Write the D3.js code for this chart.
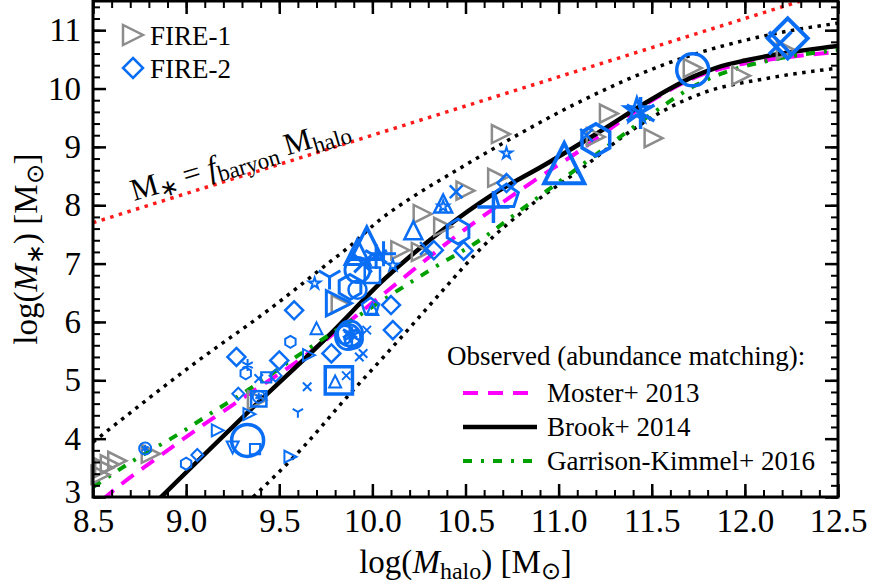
<!DOCTYPE html>
<html>
<head>
<meta charset="utf-8">
<script src="https://cdn.jsdelivr.net/npm/d3@7"></script>
<style>
  body { margin: 0; background: #fff; }
  svg { display: block; font-family: "Liberation Serif", "Times New Roman", serif; }
</style>
</head>
<body>
<div class="canvas"></div>
<script>
// ---- data (log halo mass, log stellar mass) ----
const xTicks = [8.5, 9.0, 9.5, 10.0, 10.5, 11.0, 11.5, 12.0, 12.5];
const yTicks = [3, 4, 5, 6, 7, 8, 9, 10, 11];

const baryonLine = [[8.5, 7.7], [12.5, 11.7]];
const moster = [[8.55, 2.95], [8.59, 3.06], [8.84, 3.66], [9.09, 4.23], [9.34, 4.77], [9.63, 5.4],
  [10.04, 6.43], [10.49, 7.57], [10.85, 8.38], [11.12, 8.95], [11.33, 9.43], [11.6, 9.98],
  [11.78, 10.25], [11.92, 10.38], [12.1, 10.48], [12.5, 10.63]];
const brook = [[8.85, 2.95], [9.38, 4.6], [9.77, 5.78], [10.06, 6.72], [10.4, 7.63], [10.63, 8.15],
  [10.94, 8.72], [11.19, 9.2], [11.47, 9.76], [11.6, 10.0], [11.72, 10.2], [11.85, 10.36],
  [12.0, 10.48], [12.2, 10.6], [12.5, 10.73]];
const garrison = [[8.5, 3.17], [8.72, 3.63], [8.95, 4.06], [9.16, 4.49], [9.33, 4.83], [9.59, 5.4],
  [10.02, 6.3], [10.31, 6.89], [10.6, 7.45], [10.76, 7.83], [11.04, 8.49], [11.3, 9.1],
  [11.56, 9.7], [11.72, 10.03], [11.87, 10.25], [12.13, 10.48], [12.5, 10.66]];
const scatterHigh = [[8.5, 3.94], [9.02, 5.23], [9.49, 6.32], [9.74, 6.95], [9.88, 7.3], [10.04, 7.75],
  [10.22, 8.15], [10.4, 8.5], [10.76, 9.17], [11.08, 9.72], [11.6, 10.45], [12.13, 10.92], [12.5, 11.12]];
const scatterLow = [[9.36, 3.0], [9.63, 3.86], [9.86, 4.7], [10.06, 5.4], [10.22, 5.97], [10.4, 6.62],
  [10.58, 7.25], [10.85, 8.0], [11.12, 8.62], [11.4, 9.3], [11.63, 9.73], [11.78, 9.93],
  [12.13, 10.18], [12.5, 10.35]];

// FIRE-1 runs: [logMhalo, logMstar]
const fire1 = [[8.54, 3.38], [8.56, 3.5], [8.59, 3.56], [8.63, 3.62], [8.81, 3.74], [9.38, 4.66],
  [9.83, 6.3], [10.15, 7.23], [10.26, 7.2], [10.27, 7.85], [10.38, 7.63], [10.5, 8.25],
  [10.67, 8.47], [10.69, 9.22], [11.2, 9.17], [11.27, 9.57], [11.51, 9.15], [11.72, 10.35],
  [11.98, 10.22], [12.22, 10.66]];

// FIRE-2 runs: [logMhalo, logMstar, marker, size class]
const fire2 = [
  [8.78, 3.83, 'circstar', 1], [9.00, 3.57, 'hexagon', 1], [9.06, 3.72, 'diamond', 1],
  [9.17, 4.14, 'triright', 1], [9.33, 3.97, 'circle', 4], [9.25, 3.85, 'tridown', 1],
  [9.37, 3.82, 'square', 1], [9.34, 4.42, 'triright', 1], [9.39, 4.68, 'square', 2],
  [9.39, 4.72, 'circstar', 1], [9.28, 4.77, 'diamond', 1], [9.32, 5.12, 'hexagon', 1],
  [9.27, 5.40, 'diamond', 2], [9.33, 5.26, 'asterisk', 1], [9.39, 5.03, 'x', 1],
  [9.43, 5.05, 'square', 1], [9.48, 5.08, 'diamond', 1], [9.50, 5.34, 'diamond', 2],
  [9.56, 5.66, 'hexagon', 1], [9.58, 6.20, 'diamond', 2], [9.69, 6.66, 'star', 1],
  [9.66, 5.43, 'triright', 1], [9.65, 4.89, 'x', 1], [9.60, 4.46, 'wye', 1],
  [9.56, 3.69, 'triright', 1], [9.82, 5.00, 'square', 4], [9.80, 4.98, 'triup', 1],
  [9.86, 5.08, 'x', 1], [9.78, 5.46, 'diamond', 2], [9.95, 5.46, 'x', 1],
  [9.97, 5.86, 'x', 1], [9.87, 5.74, 'circle', 3], [9.88, 5.80, 'circstar', 3],
  [9.90, 5.70, 'circle', 2], [9.85, 5.78, 'circle', 2], [9.89, 5.76, 'asterisk', 2],
  [9.70, 5.89, 'triup', 1], [9.82, 6.32, 'triright', 3],
  [9.99, 6.26, 'pentagon', 2], [10.00, 6.22, 'triup', 1], [10.10, 6.29, 'diamond', 2],
  [10.11, 5.86, 'diamond', 2], [9.93, 5.40, 'x', 1], [9.97, 7.35, 'triup', 4],
  [9.92, 7.20, 'triup', 3], [9.92, 6.89, 'circle', 3], [10.02, 7.12, 'asterisk', 3],
  [10.06, 7.17, 'plus', 3], [9.88, 6.60, 'hexagon', 3], [9.92, 6.55, 'circle', 2],
  [10.00, 6.80, 'square', 2], [10.11, 6.97, 'star', 1], [9.77, 6.77, 'wye', 3],
  [9.95, 7.00, 'x', 3], [10.22, 7.57, 'triup', 2], [10.38, 8.03, 'triup', 2],
  [10.38, 7.98, 'star', 1], [10.33, 7.23, 'diamond', 2], [10.29, 7.26, 'x', 2],
  [10.46, 7.55, 'hexagon', 3], [10.49, 7.22, 'diamond', 2], [10.45, 8.23, 'x', 2],
  [10.65, 7.97, 'plus', 4], [10.72, 8.15, 'pentagon', 3], [10.72, 8.38, 'diamond', 2],
  [10.72, 8.89, 'star', 1], [11.03, 8.72, 'triup', 5], [11.2, 9.12, 'hexagon', 4],
  [11.15, 9.2, 'x', 2], [11.44, 9.58, 'asterisk', 4], [11.42, 9.62, 'star', 3],
  [11.72, 10.32, 'circle', 4], [12.23, 10.86, 'diamond', 5], [12.19, 10.78, 'x', 4]
];

const observedLabels = ['Moster+ 2013', 'Brook+ 2014', 'Garrison-Kimmel+ 2016'];

// ---- layout ----
const W = 872, H = 587;
const L = 93, R = 838, T = 1, B = 497;
const blue = '#0a6ef5', grey = '#8c8c8c';

const svg = d3.select('.canvas').append('svg')
  .attr('width', W).attr('height', H);

const x = d3.scaleLinear().domain([8.5, 12.5]).range([L, R]);
const y = d3.scaleLinear().domain([3, 11.5]).range([B, T]);
const size = d3.scaleOrdinal().domain([1, 2, 3, 4, 5]).range([6, 9, 12.5, 16, 20]);
const sw = d3.scaleOrdinal().domain([1, 2, 3, 4, 5]).range([2, 2.5, 3, 3.5, 4]);

svg.append('clipPath').attr('id', 'clip')
  .append('rect').attr('x', L).attr('y', T).attr('width', R - L).attr('height', B - T);

// marker shapes (matplotlib-like)
function poly(n, r, rot) {
  const pts = d3.range(n).map(i => {
    const a = rot + i * 2 * Math.PI / n;
    return [r * Math.cos(a), r * Math.sin(a)];
  });
  return 'M' + pts.map(p => p.join(',')).join('L') + 'Z';
}
function spokes(n, r, rot) {
  return d3.range(n).map(i => {
    const a = rot + i * 2 * Math.PI / n;
    return `M0,0L${r * Math.cos(a)},${r * Math.sin(a)}`;
  }).join('');
}
function shapePath(shape, r) {
  const up = -Math.PI / 2;
  switch (shape) {
    case 'circle': return `M${r},0A${r},${r} 0 1,1 ${-r},0A${r},${r} 0 1,1 ${r},0Z`;
    case 'square': return `M${-r * 0.85},${-r * 0.85}h${r * 1.7}v${r * 1.7}h${-r * 1.7}Z`;
    case 'diamond': return poly(4, r, up);
    case 'triup': return `M0,${-r}L${r},${r}L${-r},${r}Z`;
    case 'tridown': return `M0,${r}L${r},${-r}L${-r},${-r}Z`;
    case 'triright': return `M${r},0L${-r},${r}L${-r},${-r}Z`;
    case 'hexagon': return poly(6, r, up);
    case 'pentagon': return poly(5, r, up);
    case 'star': {
      const pts = d3.range(10).map(i => {
        const a = up + i * Math.PI / 5, rr = i % 2 ? r * 0.38 : r;
        return [rr * Math.cos(a), rr * Math.sin(a)];
      });
      return 'M' + pts.map(p => p.join(',')).join('L') + 'Z';
    }
    case 'x': return spokes(4, r, Math.PI / 4);
    case 'plus': return spokes(4, r, 0);
    case 'asterisk': return spokes(6, r, up);
    case 'wye': return spokes(3, r, Math.PI / 2);
    case 'circstar': return `M${r},0A${r},${r} 0 1,1 ${-r},0A${r},${r} 0 1,1 ${r},0Z` + spokes(6, r * 0.65, up);
  }
}

// ---- curves ----
const line = d3.line().x(d => x(d[0])).y(d => y(d[1])).curve(d3.curveMonotoneX);
const curves = svg.append('g').attr('clip-path', 'url(#clip)');

curves.append('path').datum(baryonLine).attr('d', line)
  .attr('fill', 'none').attr('stroke', '#ff1a1a').attr('stroke-width', 3.5).attr('stroke-dasharray', '3.5,5.5');
[scatterHigh, scatterLow].forEach(s => {
  curves.append('path').datum(s).attr('d', line)
    .attr('fill', 'none').attr('stroke', '#000').attr('stroke-width', 3.5).attr('stroke-dasharray', '3.5,5.5');
});
const styles = [
  { stroke: '#ff00ff', width: 4, dash: '15,10' },
  { stroke: '#000000', width: 4.5, dash: null },
  { stroke: '#00a000', width: 4, dash: '9,9,3,9' }
];
[moster, brook, garrison].forEach((s, i) => {
  curves.append('path').datum(s).attr('d', line)
    .attr('fill', 'none').attr('stroke', styles[i].stroke)
    .attr('stroke-width', styles[i].width).attr('stroke-dasharray', styles[i].dash);
});

// ---- points ----
svg.append('g').selectAll('path').data(fire1).enter().append('path')
  .attr('transform', d => `translate(${x(d[0])},${y(d[1])})`)
  .attr('d', shapePath('triright', 9))
  .attr('fill', 'none').attr('stroke', grey).attr('stroke-width', 2.5);

svg.append('g').selectAll('path').data(fire2).enter().append('path')
  .attr('transform', d => `translate(${x(d[0])},${y(d[1])})`)
  .attr('d', d => shapePath(d[2], size(d[3])))
  .attr('fill', 'none').attr('stroke', blue).attr('stroke-width', d => sw(d[3]))
  .attr('stroke-linejoin', 'miter');

// ---- axes ----
const minorX = d3.range(85, 126).map(v => v / 10);
const minorY = d3.range(15, 58).map(v => v / 5);
const axes = svg.append('g');

function addAxis(gen, tx, ty, major, labels) {
  const gM = axes.append('g').attr('transform', `translate(${tx},${ty})`)
    .call(gen(major.scale).tickValues(major.minor).tickSize(-7).tickSizeOuter(0).tickFormat(''));
  gM.select('.domain').remove();
  gM.selectAll('line').attr('stroke-width', 2);
  const g = axes.append('g').attr('transform', `translate(${tx},${ty})`)
    .call(gen(major.scale).tickValues(major.ticks).tickSize(-13).tickSizeOuter(0)
      .tickPadding(labels ? 12 : 0).tickFormat(labels || ''));
  g.select('.domain').remove();
  g.selectAll('line').attr('stroke-width', 2.5);
  g.attr('font-family', '"Liberation Serif", serif').attr('font-size', 33);
  g.selectAll('text').attr('fill', '#000');
  return g;
}
addAxis(d3.axisBottom, 0, B, { scale: x, ticks: xTicks, minor: minorX }, d3.format('.1f'));
addAxis(d3.axisTop, 0, T, { scale: x, ticks: xTicks, minor: minorX }, null);
const yAxis = addAxis(d3.axisLeft, L, 0, { scale: y, ticks: yTicks, minor: minorY }, d3.format('d'));
// the lowest label sits a little above its tick in the original
yAxis.selectAll('text').filter(d => d === 3).attr('dy', '0.17em');
addAxis(d3.axisRight, R, 0, { scale: y, ticks: yTicks, minor: minorY }, null);

svg.append('rect').attr('x', L).attr('y', T).attr('width', R - L).attr('height', B - T)
  .attr('fill', 'none').attr('stroke', '#000').attr('stroke-width', 3);

// ---- axis titles ----
const xt = svg.append('text').attr('x', (L + R) / 2).attr('y', 573)
  .attr('text-anchor', 'middle').attr('font-size', 33);
xt.append('tspan').text('log(');
xt.append('tspan').attr('font-style', 'italic').text('M');
xt.append('tspan').attr('font-size', 24).attr('dy', 6).text('halo');
xt.append('tspan').attr('dy', -6).text(') [M');
xt.append('tspan').attr('font-size', 24).attr('dy', 6).text('⊙');
xt.append('tspan').attr('dy', -6).text(']');

const yt = svg.append('text').attr('transform', `translate(37,${(T + B) / 2}) rotate(-90)`)
  .attr('text-anchor', 'middle').attr('font-size', 33);
yt.append('tspan').text('log(');
yt.append('tspan').attr('font-style', 'italic').text('M');
yt.append('tspan').attr('font-size', 24).attr('dy', 6).text('∗');
yt.append('tspan').attr('dy', -6).text(') [M');
yt.append('tspan').attr('font-size', 24).attr('dy', 6).text('⊙');
yt.append('tspan').attr('dy', -6).text(']');

// ---- annotation on the baryon line ----
const ann = svg.append('text').attr('transform', 'translate(134,201) rotate(-16.5)')
  .attr('font-size', 31);
ann.append('tspan').text('M');
ann.append('tspan').attr('font-size', 23).attr('dy', 5).text('∗');
ann.append('tspan').attr('dy', -5).text(' = ');
ann.append('tspan').attr('font-style', 'italic').text('f');
ann.append('tspan').attr('font-size', 23).attr('dy', 6).text('baryon');
ann.append('tspan').attr('dy', -6).text(' M');
ann.append('tspan').attr('font-size', 23).attr('dy', 6).text('halo');

// ---- legends ----
const leg1 = svg.append('g').attr('font-size', 27);
leg1.append('path').attr('transform', 'translate(133,35)').attr('d', shapePath('triright', 10))
  .attr('fill', 'none').attr('stroke', grey).attr('stroke-width', 2.5);
leg1.append('text').attr('x', 150).attr('y', 45).text('FIRE-1');
leg1.append('path').attr('transform', 'translate(133,68)').attr('d', shapePath('diamond', 10))
  .attr('fill', 'none').attr('stroke', blue).attr('stroke-width', 2.5);
leg1.append('text').attr('x', 150).attr('y', 78).text('FIRE-2');

const leg2 = svg.append('g').attr('font-size', 27);
leg2.append('text').attr('x', 447).attr('y', 365).text('Observed (abundance matching):');
observedLabels.forEach((lab, i) => {
  const yy = 393 + i * 34;
  leg2.append('line').attr('x1', 463).attr('x2', 537).attr('y1', yy).attr('y2', yy)
    .attr('stroke', styles[i].stroke).attr('stroke-width', styles[i].width)
    .attr('stroke-dasharray', styles[i].dash);
  leg2.append('text').attr('x', 547).attr('y', yy + 9).text(lab);
});
</script>
</body>
</html>
